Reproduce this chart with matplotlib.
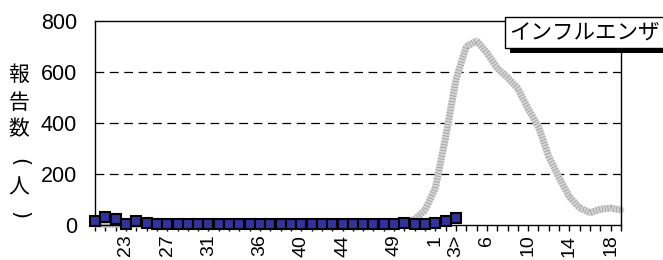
import matplotlib.pyplot as plt
import matplotlib.patheffects as pe

plt.rcParams['font.family'] = ['Liberation Sans', 'Noto Sans CJK JP', 'DejaVu Sans']

# weeks of the season: 20..52, then 1..19
weeks = list(range(20, 53)) + list(range(1, 20))
shown = {23: '23', 27: '27', 31: '31', 36: '36', 40: '40', 44: '44', 49: '49',
         1: '1', 3: '3>', 6: '6', 10: '10', 14: '14', 18: '18'}
tick_labels = [shown.get(w, '') for w in weeks]

# this season (blue squares), weeks 20 .. 3
current = [16, 30, 22, 5, 14, 9,
           2, 2, 2, 2, 2, 2, 2, 2, 2, 2, 2, 2, 2, 2, 2, 2, 2, 2, 2, 2, 2, 2, 2,
           3, 6, 3, 3, 6, 14, 27]

# last season (gray band), weeks 20 .. 19
previous = [4, 3, 3, 2, 2, 2, 2, 2, 2, 2, 2, 2, 2, 2, 2, 2, 2, 2, 2, 2, 2, 2, 2, 2, 2, 2, 2, 2, 2,
            3, 8, 22, 58, 145, 345, 570, 700, 722, 675, 615, 578, 535, 455, 385, 268,
            185, 110, 67, 48, 62, 66, 59]

fig = plt.figure(figsize=(6.63, 2.6), dpi=100)
ax = fig.add_axes([95 / 663, 35 / 260, 526 / 663, 204 / 260])

x_prev = list(range(len(previous)))
x_cur = list(range(len(current)))

ax.plot(x_prev, previous, color='#d4d4d4', lw=5, solid_joinstyle='round',
        solid_capstyle='round', zorder=2, clip_on=False)
ax.plot(x_prev, previous, color='#a0a0a0', lw=5, linestyle=(0, (0.12, 0.3)),
        zorder=2, clip_on=False)
ax.plot(x_cur, current, linestyle='none', marker='s', markersize=6.8,
        markerfacecolor='#333399', markeredgecolor='black', markeredgewidth=1.5,
        zorder=3, clip_on=False)

ax.set_xlim(0, len(weeks) - 1)
ax.set_ylim(0, 800)
ax.set_yticks([0, 200, 400, 600, 800])
ax.set_xticks(range(len(weeks)))
ax.set_xticklabels(tick_labels, rotation=90, fontsize=14)
ax.tick_params(axis='x', direction='out', length=4, width=1, pad=3)
ax.tick_params(axis='y', length=0, pad=13, labelsize=15.5)

for v in [200, 400, 600]:
    ax.axhline(v, color='black', lw=0.9, linestyle=(0, (7, 4.5)), zorder=1)

for s in ax.spines.values():
    s.set_color('black')
    s.set_linewidth(1)

# vertical y-axis title, one character per row
ylabel_chars = [('報', 0, 75), ('告', 0, 103), ('数', 0, 129),
                ('(', -90, 162), ('人', 0, 188), (')', -90, 215)]
for ch, rot, ypx in ylabel_chars:
    fig.text(19 / 663, 1 - ypx / 260, ch, family=['Noto Sans CJK JP'] if rot == 0 else ['DejaVu Sans'],
             fontsize=15, ha='center', va='center', rotation=rot)

t = fig.text(509 / 663, 1 - 32.5 / 260, 'インフルエンザ', family=['Noto Sans CJK JP'],
             fontsize=15.5, ha='left', va='center',
             bbox=dict(boxstyle='square,pad=0.2', facecolor='white',
                       edgecolor='black', linewidth=1))
t.get_bbox_patch().set_path_effects([
    pe.SimplePatchShadow(offset=(4, -4), shadow_rgbFace='black', alpha=1),
    pe.Normal()])

fig.savefig('out.png', dpi=100)
